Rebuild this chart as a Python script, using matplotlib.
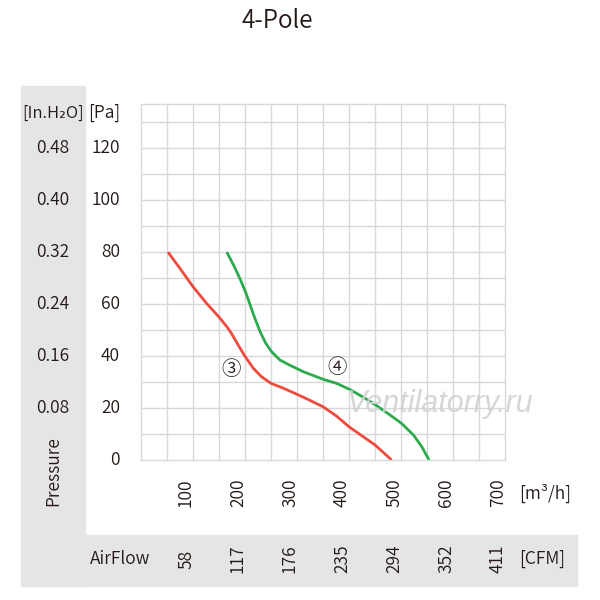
import matplotlib
matplotlib.use("Agg")
import matplotlib.pyplot as plt
from matplotlib.patches import Rectangle
from matplotlib.transforms import blended_transform_factory, ScaledTranslation

plt.rcParams["font.family"] = ["Noto Sans CJK JP", "DejaVu Sans"]
plt.rcParams["font.weight"] = 350

# ── data ────────────────────────────────────────────────
flow_ticks = [100, 200, 300, 400, 500, 600, 700]          # m3/h
cfm_labels = ["58", "117", "176", "235", "294", "352", "411"]
pa_ticks = [0, 20, 40, 60, 80, 100, 120]
inh2o_labels = ["", "0.08", "0.16", "0.24", "0.32", "0.40", "0.48"]

# curve 3 (red)
red_q = [52, 75, 100, 126, 150, 165, 174, 187, 200, 216, 232, 250, 274,
         292, 314, 350, 376, 400, 427, 450, 482]
red_p = [80, 73.7, 66.7, 60.3, 55, 51.3, 48.7, 44.2, 39.9, 35.3, 32, 29.5,
         27.6, 26, 24, 20.5, 16.9, 12.8, 9, 5.8, 0]
# curve 4 (green)
green_q = [165, 178, 190, 201, 210, 219, 229, 240, 251, 267, 287, 312, 351,
           376, 401, 428, 451, 479, 501, 524, 540, 554]
green_p = [80, 75, 69.9, 64.7, 59.6, 54.5, 49.4, 44.9, 41.7, 38.5, 36.4, 34,
           31, 29.5, 27.2, 24.1, 21.2, 17.3, 14.1, 9.6, 5.1, 0]

TXT = "#231815"
W = H = 600


def fx(x):
    return x / W


def fy(y):
    return 1 - y / H


fig = plt.figure(figsize=(6, 6), dpi=100)

# gray L-shaped band
fig.patches.append(Rectangle((fx(21), fy(586)), 64 / W, 500 / H,
                             transform=fig.transFigure, color="#e5e5e5", zorder=0))
fig.patches.append(Rectangle((fx(21), fy(586)), 556 / W, 51 / H,
                             transform=fig.transFigure, color="#e5e5e5", zorder=0))

ax = fig.add_axes([fx(141), fy(460), (505 - 141) / W, (460 - 104) / H])
ax.set_xlim(0, 700)
ax.set_ylim(0, 137)
ax.set_xticks(range(50, 700, 50))
ax.set_yticks(range(10, 137, 10))
ax.grid(True, color="#d8d8d8", lw=1)
ax.tick_params(length=0, labelbottom=False, labelleft=False)
for s in ax.spines.values():
    s.set_color("#d8d8d8")
    s.set_linewidth(1)

ax.plot(red_q, red_p, color="#ee4b3f", lw=2, solid_capstyle="butt")
ax.plot(green_q, green_p, color="#2cab4e", lw=2, solid_capstyle="butt")
ax.text(174, 35, "③", ha="center", va="center", fontsize=14, color=TXT)
ax.text(377, 35.5, "④", ha="center", va="center", fontsize=14, color=TXT)

# watermark
fig.text(fx(440), fy(404), "Ventilatorry.ru", ha="center", va="center",
         fontsize=22, style="italic", family="Liberation Sans",
         color="#d2d2d2", zorder=3, alpha=0.9)

# y labels
ty = blended_transform_factory(fig.transFigure, ax.transData)
for p, ih in zip(pa_ticks, inh2o_labels):
    fig.text(fx(120), p, str(p), transform=ty, ha="right", va="center",
             fontsize=12.5, color=TXT)
    if ih:
        fig.text(fx(53), p, ih, transform=ty, ha="center", va="center",
                 fontsize=12.5, color=TXT)
fig.text(fx(53), fy(113), "[In.H₂O]", ha="center", va="center",
         fontsize=12, color=TXT)
fig.text(fx(120), fy(113), "[Pa]", ha="right", va="center",
         fontsize=12.5, color=TXT)
fig.text(fx(53), fy(471), "Pressure", ha="center", va="center",
         rotation=90, fontsize=12.5, color=TXT)

# x labels
shift = ScaledTranslation(-7 / 100, 0, fig.dpi_scale_trans)
tx = blended_transform_factory(ax.transData, fig.transFigure) + shift
for q, c in zip(flow_ticks, cfm_labels):
    fig.text(q, fy(493), str(q), transform=tx, ha="center", va="center",
             rotation=90, fontsize=12.5, color=TXT)
    fig.text(q, fy(559), c, transform=tx, ha="center", va="center",
             rotation=90, fontsize=12.5, color=TXT)
fig.text(fx(519), fy(493), "[m³/h]", ha="left", va="center",
         fontsize=12.5, color=TXT)
fig.text(fx(519), fy(559), "[CFM]", ha="left", va="center",
         fontsize=12.5, color=TXT)
fig.text(fx(90), fy(559), "AirFlow", ha="left", va="center",
         fontsize=12.5, color=TXT)

fig.text(fx(277), fy(21), "4-Pole", ha="center", va="center",
         fontsize=17.5, color=TXT)

fig.savefig("out.png", dpi=100)
